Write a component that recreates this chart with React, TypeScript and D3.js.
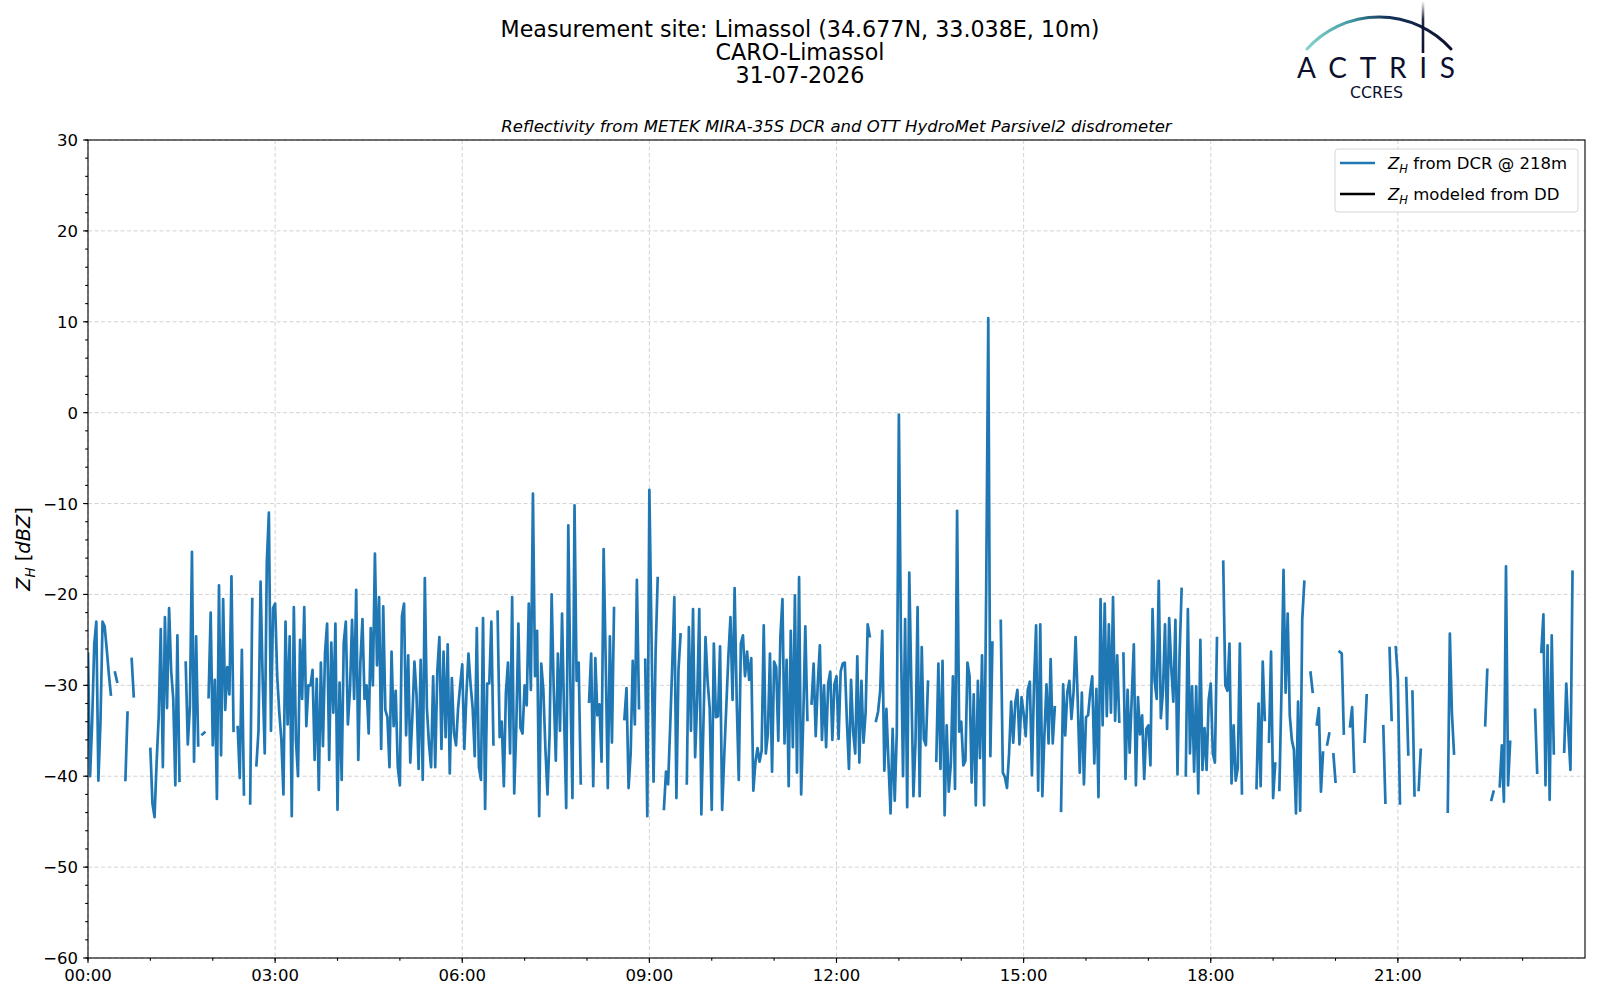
import * as d3 from 'd3'

const W = 1600, H = 1000
const M = { left: 88, top: 140, right: 1585, bottom: 958 }
const FONT = '"DejaVu Sans", sans-serif'
const BLUE = '#1f77b4'

// Z_H from DCR, one value every 2 minutes (dBZ), null = no data
const zh00_03 = [
  -26.5, -40, -34, -25.5, -23, -40.5, -34, -23, -23.5, -26, -28.7, -31, null, -28.6, -29.6, null, null, null, -40.4, -33, null, -27.1, -31.2, null, null, null, null, null, null, null,
  -37, -43, -44.5, -38.5, -33.5, -23.8, -39, -22.5, -32.5, -21.5, -28.4, -31.5, -41, -24.5, -40.5, null, null, -27.5, -36.5, -32.4, -15.3, -38.4, -24.6, -36.6, null, -35.4, -35.2, null, -31.3, -22,
  -36.6, -29.4, -42.5, -19, -37.7, -20.5, -32.7, -28, -31, -18, -35, null, -34.6, -40.2, -26.1, -42, null, null, -43, -20.5, null, -38.8, -35, -18.6, -29.3, -37.5, -16.5, -11, -35, -21.5,
]
const zh03_06 = [
  -21, -29, -33, -36, -42, -23, -34.3, -24.6, -44.4, -21.4, -36, -40, -25, -31.5, -21.4, -34.5, -30, -30, -28.3, -38.2, -29.3, -41.5, -27.5, -36.7, -26.4, -23.2, -38.2, -25.3, -33, -23.2,
  -43.7, -29.7, -40.4, -25.3, -23, -34.3, -30.5, -22.8, -31.5, -19.5, -38.2, -27.5, -22.7, -31.5, -30, -35.3, -23.7, -30, -15.5, -27.8, -20.3, -37, -21.3, -32.7, -33.5, -39, -26.3, -34.5, -30.6, -39,
  -41, -22.4, -21, -35.5, -26.7, -38.5, -33.5, -27.4, -31, -39.2, -27.2, -40.4, -18.2, -32.5, -36.5, -39, -29, -39, -28.5, -24.7, -37, -26.3, -35.7, -25.5, -39.7, -29.2, -35.2, -36.6, -32.5, -30,
]
const zh06_09 = [
  -27.7, -37, -31, -26.5, -29.9, -32.5, -37.8, -23.7, -39, -40.4, -22.6, -43.6, -29.8, -29.8, -23, -36.5, null, -21.9, -35.7, -34, -41.1, -30.8, -27.5, -37.5, -20.3, -41.9, -34.5, -23.2, -34.7, -35.3,
  -30, -32.2, -21, -30.5, -8.9, -29, -24, -44.4, -27.6, -30.5, -37, -42, -35.5, -20, -30.5, -38.3, -26.5, -35, -22.1, -33.6, -43.5, -12.4, -29.8, -42.4, -10.2, -29.5, -27.5, -40.8, null, null,
  null, -31.8, -26.5, -41.1, -27, -33.3, -32.1, -38.4, -15, -27.4, -41.3, -24.6, -36.3, -21.5, null, null, null, null, -33.7, -30.3, -41.3, -37.5, -27.3, -34.3, -18.4, -32.5, null, null, -27.2, -44.4,
]
const zh09_12 = [
  -8.5, -24.1, -40.6, -26.3, -18.2, null, null, -43.6, -39.5, -40.9, -34.6, -27.8, -20.3, -42.4, -28.3, -24.4, null, null, -40.8, -23.6, -35, -21.6, -37.9, -31.6, -21.6, -44.2, -34.2, -24.7, -29.5, -32.5,
  -43.7, -25.4, -33.5, -33.4, -25.7, -43.7, -37.8, -32.3, -26.8, -22.5, -31.6, -19.3, -31.6, -40.4, -25.4, -24.5, -29, -26.3, -29.4, -27, -41.6, -38.5, -36.9, -38.4, -37.2, -23.4, -37.5, -35.3, -26.5, -39.5,
  -27.4, -28, -36.1, -24.7, -20.5, -36.4, -27.2, -41.1, -24, -36.8, -20.1, -39.6, -18.1, -42, -33.8, -23.5, -33.8, null, -32, -27.6, -35.6, -29.8, -25.6, -36, -30, -36.8, -29.8, -28.5, -36, -29.9,
]
const zh12_15 = [
  -29, -35.9, -28.5, -27.6, -27.5, -34, -39.2, -29.4, -35.1, -37.5, -26.8, -38.5, -29.5, -36.3, -33, -23.3, -24.6, null, null, -33.9, -32.9, -30.6, -24, -39.4, -32.6, -38.5, -44.1, -34.8, -42.7, -35.2,
  -0.2, -25, -40, -22.7, -43.4, -17.6, -30.1, -42.2, -36.2, -21.4, -42.2, -25.8, -35.9, -36.6, -29.6, null, null, null, -38.3, -27.6, -39.2, -27.3, -44.3, -34.4, -41.7, -38.6, -29, -41.4, -10.8, -35.1,
  -34, -38.8, -38.3, -27.5, -29, -40.7, -31, -43.2, -29.5, -38, -26.7, -43.2, -19.3, 10.4, -37.8, -25.3, null, null, null, -22.9, -39.6, -40.1, -41.3, -37.5, -31.8, -36.3, -31.9, -30.5, -36.5, -31.3,
]
const zh15_18 = [
  -33.1, -35.6, -30.5, -29.6, -39.9, -29.9, -23.4, -41.6, -23.3, -42.2, -35.4, -29.9, -36.4, -27.1, -36.4, -32.4, null, null, -43.8, -29.9, -35.5, -30.8, -29.5, -33.7, -30.8, -24.7, -31.5, -39.6, -30.8, -40.9,
  -33.5, -33.3, -30.8, -29, -38.6, -30.4, -42.3, -20.5, -34.4, -21, -33.4, -23.3, -33, -20.3, -33.9, -26.7, -34, null, -26.5, -40.3, -30.5, -37.4, -31.4, -25.5, -41, -31.3, -35.4, -33.3, -40.3, -34.8,
  -34.4, -38.8, -21.6, -29.5, -31.5, -18.5, -33.6, -30.7, -23.3, -34.8, -22.6, -28, -31.8, -22.8, -39.8, -26.7, -19.4, null, -39.9, -21.6, -37.5, -30.1, -39.5, -30.1, -41.9, -25, -39.3, -34.7, -39.3, -31.6,
]
const zh18_21 = [
  -29.8, -37.5, -38.5, -24.8, null, null, -16.4, -30, -30.6, -25.4, -40.8, -34.4, -40.5, -39.1, -25.4, -41.9, null, null, null, null, null, null, -41.3, -32, -41.1, -27.4, -33.8, null, -36.2, -26.3,
  -42.4, -38.6, null, -41.5, -30.8, -17.3, -30.8, -22.1, -33.3, -36, -37.1, -44.1, -31.8, -43.8, -22.8, -18.6, null, null, -28.6, -30.7, null, -34.3, -32.5, -41.7, -37.4, null, -36.5, -35.3, null, -37.6,
  -40.6, null, -26.3, -26.5, -35.3, null, null, -34.5, -32.4, -39.5, null, null, null, null, -36.2, -31.1, null, null, null, null, null, null, null, -34.5, -42.9, null, -25.9, -33.8, null, -25.8,
]
const zh21_24 = [
  -29.3, -43, null, null, -29.2, -37.6, null, -30.7, -42.1, null, -41.5, -37.1, null, null, null, null, null, null, null, null, null, null, null, null, -43.9, -24.3, -33.1, -37.5, null, null,
  null, null, null, null, null, null, null, null, null, null, null, null, -34.4, -28.3, null, -42.6, -41.7, null, null, -41.1, -36.6, -42.8, -16.9, -41, -36.2, null, null, null, null, null,
  null, null, null, null, null, null, -32.7, -39.6, null, -26.3, -22.2, -41, -25.6, -42.6, -24.5, -37.5, null, null, null, null, -37.3, -29.8, -35.1, -39.3, -17.5, null, null, null, null, null,
]

const STEP_H = 2 / 60
const zh: (number | null)[] = [zh00_03, zh03_06, zh06_09, zh09_12, zh12_15, zh15_18, zh18_21, zh21_24].flat()

const xMajor = [0, 3, 6, 9, 12, 15, 18, 21]
const xLabels = ['00:00', '03:00', '06:00', '09:00', '12:00', '15:00', '18:00', '21:00']
const xMinor = d3.range(0, 24, 1)
const yMajor = d3.range(-60, 31, 10)
const yMinor = d3.range(-60, 31, 2)

const titleLines = ['Measurement site: Limassol (34.677N, 33.038E, 10m)', 'CARO-Limassol', '31-07-2026']
const subTitle = 'Reflectivity from METEK MIRA-35S DCR and OTT HydroMet Parsivel2 disdrometer'

export default function App() {
  const x = d3.scaleLinear([0, 24], [M.left, M.right])
  const y = d3.scaleLinear([-60, 30], [M.bottom, M.top])

  const pts = zh.map((v, i) => ({ t: i * STEP_H, v }))
  const line = d3.line<{ t: number; v: number | null }>()
    .defined((d) => d.v != null)
    .x((d) => x(d.t))
    .y((d) => y(d.v as number))

  const yLabelMinus = (v: number) => (v < 0 ? `\u2212${-v}` : `${v}`)

  return (
    <svg width={W} height={H} viewBox={`0 0 ${W} ${H}`}
      style={{ position: 'absolute', left: 0, top: 0, background: '#fff' }} fontFamily={FONT}>
      <defs>
        <linearGradient id="arcGrad" gradientUnits="userSpaceOnUse" x1={1307} y1={0} x2={1451} y2={0}>
          <stop offset="0" stopColor="#86d2cb" />
          <stop offset="0.3" stopColor="#3f9aa3" />
          <stop offset="0.55" stopColor="#16345a" />
          <stop offset="1" stopColor="#0c0f2e" />
        </linearGradient>
        <linearGradient id="barGrad" gradientUnits="userSpaceOnUse" x1={0} y1={1} x2={0} y2={54}>
          <stop offset="0" stopColor="#0c0f2e" stopOpacity="0" />
          <stop offset="0.35" stopColor="#0c0f2e" stopOpacity="0.9" />
          <stop offset="1" stopColor="#0c0f2e" />
        </linearGradient>
        <clipPath id="plotClip">
          <rect x={M.left} y={M.top} width={M.right - M.left} height={M.bottom - M.top} />
        </clipPath>
      </defs>

      {/* titles */}
      {titleLines.map((t, i) => (
        <text key={t} x={800} y={37 + i * 23.2} textAnchor="middle" fontSize={22.2} fill="#000">{t}</text>
      ))}
      <text x={(M.left + M.right) / 2} y={131.5} textAnchor="middle" fontSize={16.5} fontStyle="italic" fill="#000">{subTitle}</text>

      {/* ACTRIS logo */}
      <path d={`M1307,49 A97,97 0 0 1 1451,49`} fill="none" stroke="url(#arcGrad)" strokeWidth={3} strokeLinecap="round" />
      <line x1={1423} y1={1} x2={1423} y2={53} stroke="url(#barGrad)" strokeWidth={2.6} />
      <text x={1297} y={78} fontSize={28} fontFamily='"Lato", "DejaVu Sans", sans-serif' fill="#0c0f2e" textLength={158} lengthAdjust="spacing">ACTRIS</text>
      <text x={1350} y={98} fontSize={16.5} fontFamily='"DejaVu Sans", sans-serif' fill="#0c0f2e" textLength={53} lengthAdjust="spacingAndGlyphs">CCRES</text>

      {/* grid */}
      <g stroke="#d3d3d3" strokeWidth={1} strokeDasharray="4,2.5">
        {xMajor.map((h) => <line key={`gx${h}`} x1={x(h)} x2={x(h)} y1={M.top} y2={M.bottom} />)}
        {yMajor.map((v) => <line key={`gy${v}`} x1={M.left} x2={M.right} y1={y(v)} y2={y(v)} />)}
      </g>

      {/* data */}
      <path d={line(pts) ?? ''} fill="none" stroke={BLUE} strokeWidth={2.7}
        strokeLinejoin="round" strokeLinecap="square" clipPath="url(#plotClip)" />

      {/* frame */}
      <rect x={M.left} y={M.top} width={M.right - M.left} height={M.bottom - M.top} fill="none" stroke="#000" strokeWidth={1.1} />

      {/* ticks */}
      <g stroke="#000" strokeWidth={1.1}>
        {yMinor.map((v) => <line key={`ym${v}`} x1={M.left - 2.8} x2={M.left} y1={y(v)} y2={y(v)} />)}
        {yMajor.map((v) => <line key={`yM${v}`} x1={M.left - 4.9} x2={M.left} y1={y(v)} y2={y(v)} />)}
        {xMinor.map((h) => <line key={`xm${h}`} x1={x(h)} x2={x(h)} y1={M.bottom} y2={M.bottom + 2.8} />)}
        {xMajor.map((h) => <line key={`xM${h}`} x1={x(h)} x2={x(h)} y1={M.bottom} y2={M.bottom + 4.9} />)}
      </g>
      {yMajor.map((v) => (
        <text key={`yl${v}`} x={M.left - 10} y={y(v) + 6} textAnchor="end" fontSize={16.5} fill="#000">{yLabelMinus(v)}</text>
      ))}
      {xMajor.map((h, i) => (
        <text key={`xl${h}`} x={x(h)} y={980.5} textAnchor="middle" fontSize={16.5} fill="#000">{xLabels[i]}</text>
      ))}

      {/* y label */}
      <text transform={`translate(30,${(M.top + M.bottom) / 2}) rotate(-90)`} textAnchor="middle" fontSize={19.4} fill="#000">
        <tspan fontStyle="italic">Z</tspan>
        <tspan fontStyle="italic" fontSize={13.5} dy={4.5}>H</tspan>
        <tspan dy={-4.5}> [</tspan>
        <tspan fontStyle="italic">dBZ</tspan>
        <tspan>]</tspan>
      </text>

      {/* legend */}
      <rect x={1335} y={149} width={243} height={63} rx={3} fill="#fff" fillOpacity={0.8} stroke="#d6d6d6" strokeWidth={1} />
      <line x1={1340} x2={1375} y1={163} y2={163} stroke={BLUE} strokeWidth={2.5} />
      <line x1={1340} x2={1375} y1={194} y2={194} stroke="#000" strokeWidth={2.5} />
      <text x={1388} y={169} fontSize={16.5} fill="#000">
        <tspan fontStyle="italic">Z</tspan>
        <tspan fontStyle="italic" fontSize={11.5} dy={4}>H</tspan>
        <tspan dy={-4}> from DCR @ 218m</tspan>
      </text>
      <text x={1388} y={200} fontSize={16.5} fill="#000">
        <tspan fontStyle="italic">Z</tspan>
        <tspan fontStyle="italic" fontSize={11.5} dy={4}>H</tspan>
        <tspan dy={-4}> modeled from DD</tspan>
      </text>
    </svg>
  )
}
